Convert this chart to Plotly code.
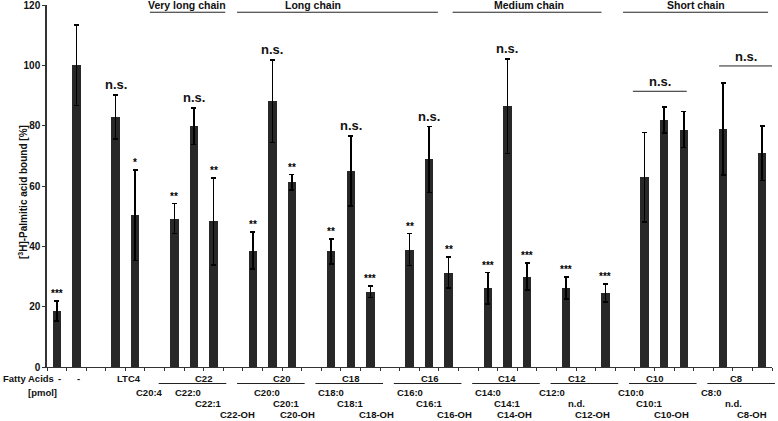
import plotly.graph_objects as go

# ---- data (slot order along x; None = empty slot) ----
categories = ["-", "-", None, "LTC4", "C20:4", None,
              "C22:0", "C22:1", "C22-OH", None,
              "C20:0", "C20:1", "C20-OH", None,
              "C18:0", "C18:1", "C18-OH", None,
              "C16:0", "C16:1", "C16-OH", None,
              "C14:0", "C14:1", "C14-OH", None,
              "C12:0", "n.d.", "C12-OH", None,
              "C10:0", "C10:1", "C10-OH", None,
              "C8:0", "n.d.", "C8-OH"]
label_rows = [1, 1, None, 1, 2, None,
              2, 3, 4, None, 2, 3, 4, None, 2, 3, 4, None, 2, 3, 4, None,
              2, 3, 4, None, 2, 3, 4, None, 2, 3, 4, None, 2, 3, 4]
values = [18.5, 100, None, 82.8, 50.3, None,
          49.2, 79.8, 48.3, None,
          38.6, 88.1, 61.2, None,
          38.3, 64.9, 25.0, None,
          38.9, 68.8, 31.3, None,
          26.1, 86.5, 30.0, None,
          26.2, None, 24.6, None,
          62.9, 81.8, 78.7, None,
          78.9, None, 70.8]
errors = [3.3, 13.3, None, 7.3, 15.0, None,
          5.0, 6.0, 14.4, None,
          6.1, 13.7, 2.6, None,
          4.2, 11.6, 1.9, None,
          5.3, 10.9, 5.1, None,
          5.2, 15.7, 4.4, None,
          3.7, None, 3.0, None,
          14.9, 4.3, 6.0, None,
          15.3, None, 9.0]
significance = ["***", "", None, "n.s.", "*", None,
                "**", "n.s.", "**", None,
                "**", "n.s.", "**", None,
                "**", "n.s.", "***", None,
                "**", "n.s.", "**", None,
                "***", "n.s.", "***", None,
                "***", None, "***", None,
                "", "", "", None,
                "", None, ""]

# group labels under the axis: (name, first slot, last slot)
groups = [("C22", 6, 8), ("C20", 10, 12), ("C18", 14, 16), ("C16", 18, 20),
          ("C14", 22, 24), ("C12", 26, 28), ("C10", 30, 32), ("C8", 34, 36)]
# chain-length headers: (name, line start, line end, text centre) in slot units
headers = [("Very long chain", 4.75, 8.6, 6.65),
           ("Long chain", 9.2, 19.45, 13.05),
           ("Medium chain", 20.2, 27.8, 24.1),
           ("Short chain", 28.9, 36.3, 32.6)]
# short-chain n.s. brackets: (start, end, level)
brackets = [(29.4, 32.15, 91.4), (33.8, 36.5, 99.8)]

y_ticks = [0, 20, 40, 60, 80, 100, 120]
n_slots = len(categories)
XMIN, XMAX = -0.5, n_slots - 0.5
YMAX = 120

FONT = "Liberation Sans, Arial, Helvetica, sans-serif"
BAR = "#282828"
TXT = "#111111"
LBL = 9.5

x_idx = list(range(n_slots))
bx = [i for i in x_idx if values[i] is not None]
by = [values[i] for i in bx]
be = [errors[i] for i in bx]

fig = go.Figure()
fig.add_trace(go.Bar(
    x=bx, y=by, width=0.43, marker=dict(color=BAR, line=dict(width=0)),
    error_y=dict(type="data", array=be, visible=True, color="#000000",
                 thickness=1.6, width=2.5),
))

W, H = 778, 421
ML, MR, MT, MB = 47, 6, 5, 54
plot_h = H - MT - MB
plot_w = W - ML - MR


def px_to_paper_y(dy):
    return dy / plot_h


def slot_to_paper(s):
    return (s - XMIN) / (XMAX - XMIN)


ann = []
shapes = []

# significance marks
for i in x_idx:
    s = significance[i]
    if not s:
        continue
    top = values[i] + errors[i]
    if s == "n.s.":
        ann.append(dict(x=i, y=top, xref="x", yref="y", text="<b>n.s.</b>",
                        showarrow=False, yanchor="bottom", yshift=1,
                        font=dict(family=FONT, size=13, color=TXT)))
    else:
        ann.append(dict(x=i, y=top, xref="x", yref="y", text="<b>" + s + "</b>",
                        showarrow=False, yanchor="bottom", yshift=0,
                        font=dict(family=FONT, size=10, color="#000000")))

# short-chain brackets
for a, b, lvl in brackets:
    shapes.append(dict(type="line", xref="x", yref="y", x0=a, x1=b, y0=lvl, y1=lvl,
                       line=dict(color="#222", width=1)))
    ann.append(dict(x=(a + b) / 2, y=lvl, xref="x", yref="y", text="<b>n.s.</b>",
                    showarrow=False, yanchor="bottom", yshift=0,
                    font=dict(family=FONT, size=13, color=TXT)))

# chain headers
for name, a, b, c in headers:
    shapes.append(dict(type="line", xref="x", yref="y", x0=a, x1=b, y0=117.6, y1=117.6,
                       line=dict(color="#222", width=1)))
    ann.append(dict(x=c, y=YMAX, xref="x", yref="y", text="<b>" + name + "</b>",
                    showarrow=False, yanchor="middle",
                    font=dict(family=FONT, size=10.5, color=TXT)))

# bottom labels
row_px = {1: 12, 2: 25, 3: 36.5, 4: 47.5}
for i in x_idx:
    lab = categories[i]
    if lab is None:
        continue
    r = label_rows[i]
    xs = i + (0.3 if lab.endswith("-OH") else 0)
    ann.append(dict(x=slot_to_paper(xs), y=-px_to_paper_y(row_px[r]), xref="paper", yref="paper",
                    text="<b>" + lab + "</b>", showarrow=False, yanchor="middle", borderpad=0,
                    font=dict(family=FONT, size=LBL, color=TXT)))

for name, a, b in groups:
    mid = (a + b) / 2
    ann.append(dict(x=slot_to_paper(mid), y=-px_to_paper_y(row_px[1]), xref="paper", yref="paper",
                    text="<b>" + name + "</b>", showarrow=False, yanchor="middle", borderpad=0,
                    font=dict(family=FONT, size=LBL, color=TXT)))
    shapes.append(dict(type="line", xref="paper", yref="paper",
                       x0=slot_to_paper(a - 0.8), x1=slot_to_paper(b + 0.65),
                       y0=-px_to_paper_y(16.5), y1=-px_to_paper_y(16.5),
                       line=dict(color="#222", width=1)))

ann.append(dict(x=slot_to_paper(-0.1), y=-px_to_paper_y(row_px[1]), xref="paper", yref="paper",
                text="<b>Fatty Acids</b>", showarrow=False, xanchor="right", yanchor="middle",
                borderpad=0, font=dict(family=FONT, size=LBL, color=TXT)))
ann.append(dict(x=slot_to_paper(-1.5), y=-px_to_paper_y(row_px[2]), xref="paper", yref="paper",
                text="<b>[pmol]</b>", showarrow=False, yanchor="middle", borderpad=0,
                font=dict(family=FONT, size=LBL, color=TXT)))

# y axis title (placed manually, as in the reference)
ann.append(dict(x=-24 / plot_w, y=58 / YMAX, xref="paper", yref="paper",
                text="<b>[<sup>3</sup>H]-Palmitic acid bound [%]</b>", textangle=-90,
                showarrow=False, xanchor="center", yanchor="middle",
                font=dict(family=FONT, size=10, color=TXT)))

fig.update_layout(
    width=W, height=H,
    margin=dict(l=ML, r=MR, t=MT, b=MB, autoexpand=False),
    plot_bgcolor="white", paper_bgcolor="white",
    showlegend=False, bargap=0,
    annotations=ann, shapes=shapes,
    xaxis=dict(range=[XMIN, XMAX], showgrid=False, zeroline=False, automargin=False,
               showline=True, linecolor="#333", linewidth=1,
               ticks="outside", ticklen=3, tickcolor="#333", tickwidth=1,
               tickvals=[i - 0.5 for i in range(n_slots + 1)], showticklabels=False),
    yaxis=dict(range=[0, YMAX], showgrid=False, zeroline=False, automargin=False,
               showline=True, linecolor="#333", linewidth=1.5,
               ticks="outside", ticklen=3, tickcolor="#333", tickwidth=1.2,
               tickvals=y_ticks, ticktext=[str(t) for t in y_ticks],
               ticklabeloverflow="allow",
               tickfont=dict(family=FONT, size=10, color=TXT, weight="bold")),
)

fig.write_html("out.html",
               config={"displayModeBar": False},
               post_script="document.body.style.margin='0px';document.body.style.overflow='hidden';")
